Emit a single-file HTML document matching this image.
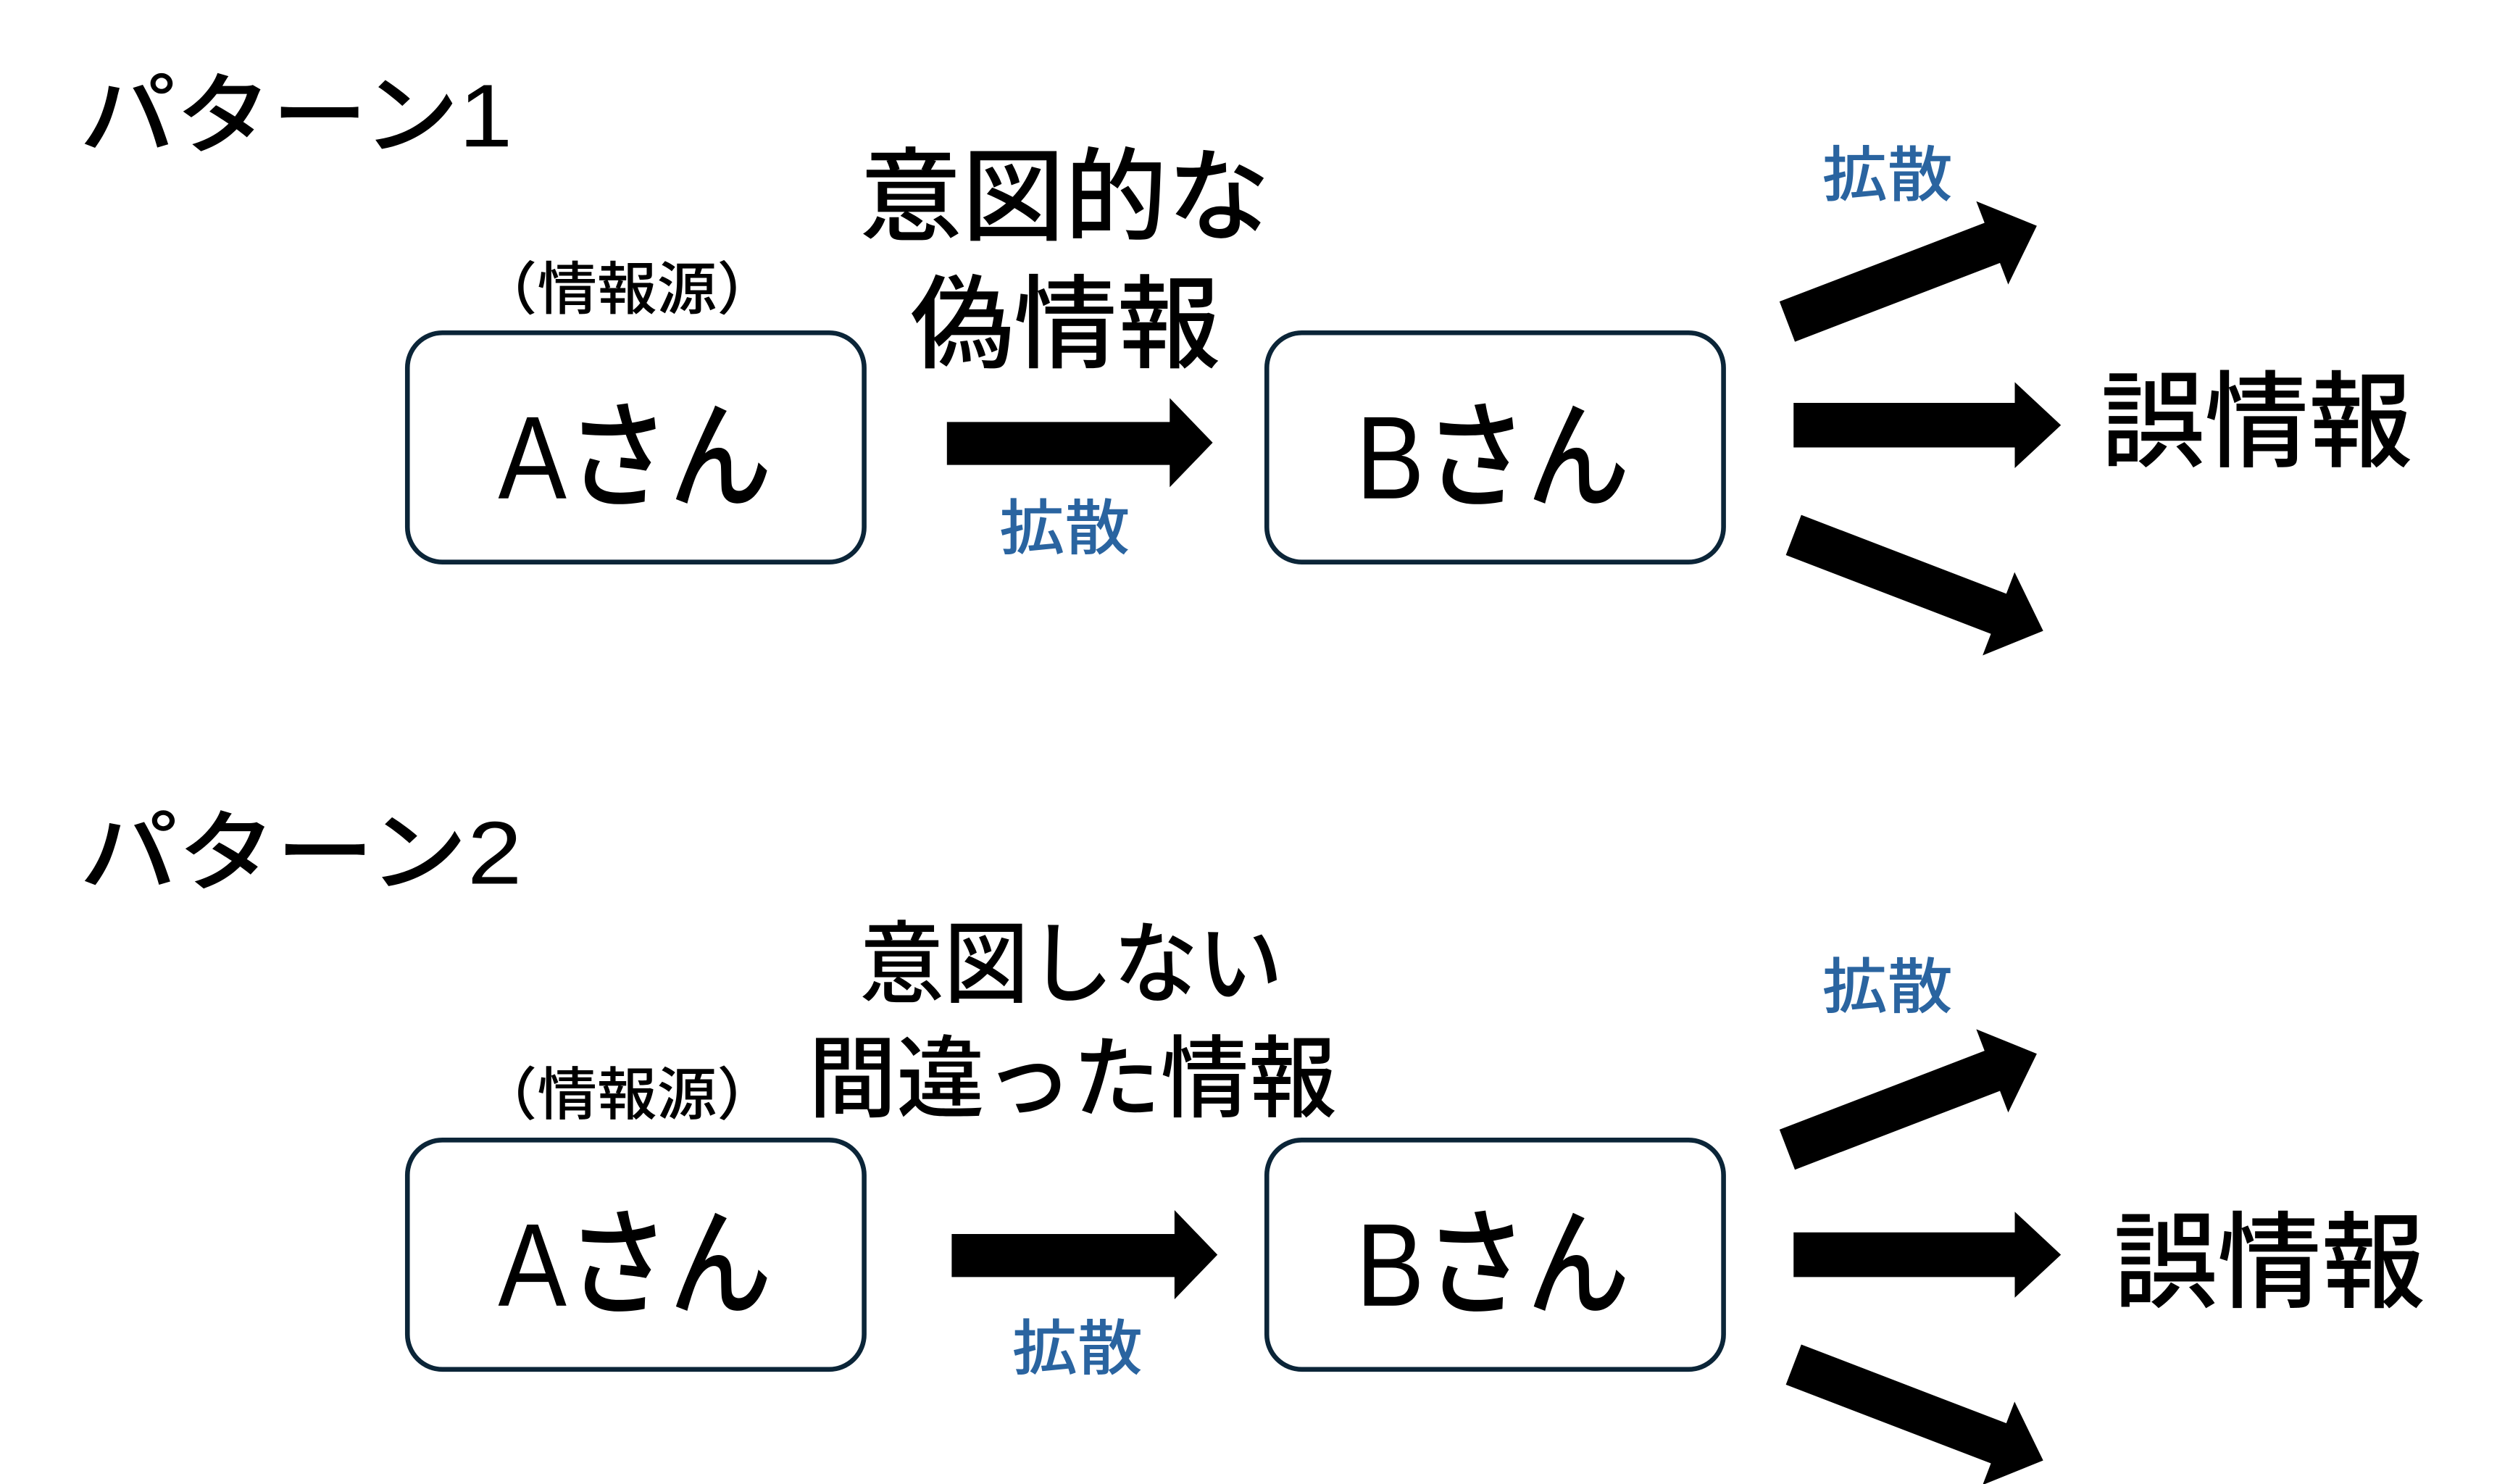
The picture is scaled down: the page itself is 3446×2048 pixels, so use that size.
<!DOCTYPE html>
<html><head><meta charset="utf-8"><style>
html,body{margin:0;padding:0;background:#fff;}
svg{display:block;}
text{font-family:"Liberation Sans","Noto Sans CJK JP",sans-serif;font-weight:500;}
</style></head><body>
<svg width="3446" height="2048" viewBox="0 0 1569 932" preserveAspectRatio="none" xmlns="http://www.w3.org/2000/svg">
<defs>
<g id="arr"><polygon points="0,-13.5 138,-13.5 138,-28 168,0 138,28 138,13.5 0,13.5" fill="#000"/></g>
</defs>
<!-- Pattern 1 -->
<text x="50" y="92" font-size="56" textLength="272" lengthAdjust="spacingAndGlyphs">パターン1</text>
<text x="540" y="146" font-size="64" textLength="258" lengthAdjust="spacingAndGlyphs">意図的な</text>
<text x="572" y="226" font-size="64" textLength="195" lengthAdjust="spacingAndGlyphs">偽情報</text>
<text x="300" y="194" font-size="36" textLength="188" lengthAdjust="spacingAndGlyphs">（情報源）</text>
<rect x="256" y="209" width="287" height="144" rx="22" fill="#fff" stroke="#0b2538" stroke-width="3"/>
<text x="313" y="313" font-size="74" textLength="172" lengthAdjust="spacingAndGlyphs">Aさん</text>
<polygon points="595,265 735,265 735,250 762,278 735,306 735,292 595,292" fill="#000"/>
<text x="628" y="345" font-size="38" fill="#2a64a0" textLength="82" lengthAdjust="spacingAndGlyphs">拡散</text>
<rect x="796" y="209" width="287" height="144" rx="22" fill="#fff" stroke="#0b2538" stroke-width="3"/>
<text x="852" y="313" font-size="74" textLength="172" lengthAdjust="spacingAndGlyphs">Bさん</text>
<text x="1145" y="123" font-size="38" fill="#2a64a0" textLength="82" lengthAdjust="spacingAndGlyphs">拡散</text>
<use href="#arr" transform="translate(1123,202) rotate(-21)"/>
<polygon points="1127,253 1266,253 1266,240 1295,267 1266,294 1266,281 1127,281" fill="#000"/>
<use href="#arr" transform="translate(1127,336) rotate(21)"/>
<text x="1320" y="288" font-size="66" textLength="196" lengthAdjust="spacingAndGlyphs">誤情報</text>
<!-- Pattern 2 -->
<text x="50" y="555" font-size="56" textLength="278" lengthAdjust="spacingAndGlyphs">パターン2</text>
<text x="540" y="625" font-size="56" textLength="266" lengthAdjust="spacingAndGlyphs">意図しない</text>
<text x="508" y="697" font-size="56" textLength="332" lengthAdjust="spacingAndGlyphs">間違った情報</text>
<text x="300" y="700" font-size="36" textLength="188" lengthAdjust="spacingAndGlyphs">（情報源）</text>
<rect x="256" y="716" width="287" height="144" rx="22" fill="#fff" stroke="#0b2538" stroke-width="3"/>
<text x="313" y="820" font-size="74" textLength="172" lengthAdjust="spacingAndGlyphs">Aさん</text>
<polygon points="598,775 738,775 738,760 765,788 738,816 738,802 598,802" fill="#000"/>
<text x="636" y="860" font-size="38" fill="#2a64a0" textLength="82" lengthAdjust="spacingAndGlyphs">拡散</text>
<rect x="796" y="716" width="287" height="144" rx="22" fill="#fff" stroke="#0b2538" stroke-width="3"/>
<text x="852" y="820" font-size="74" textLength="172" lengthAdjust="spacingAndGlyphs">Bさん</text>
<text x="1145" y="633" font-size="38" fill="#2a64a0" textLength="82" lengthAdjust="spacingAndGlyphs">拡散</text>
<use href="#arr" transform="translate(1123,722) rotate(-21)"/>
<polygon points="1127,774 1266,774 1266,761 1295,788 1266,815 1266,802 1127,802" fill="#000"/>
<use href="#arr" transform="translate(1127,857) rotate(21)"/>
<text x="1328" y="816" font-size="66" textLength="196" lengthAdjust="spacingAndGlyphs">誤情報</text>
</svg>
</body></html>
